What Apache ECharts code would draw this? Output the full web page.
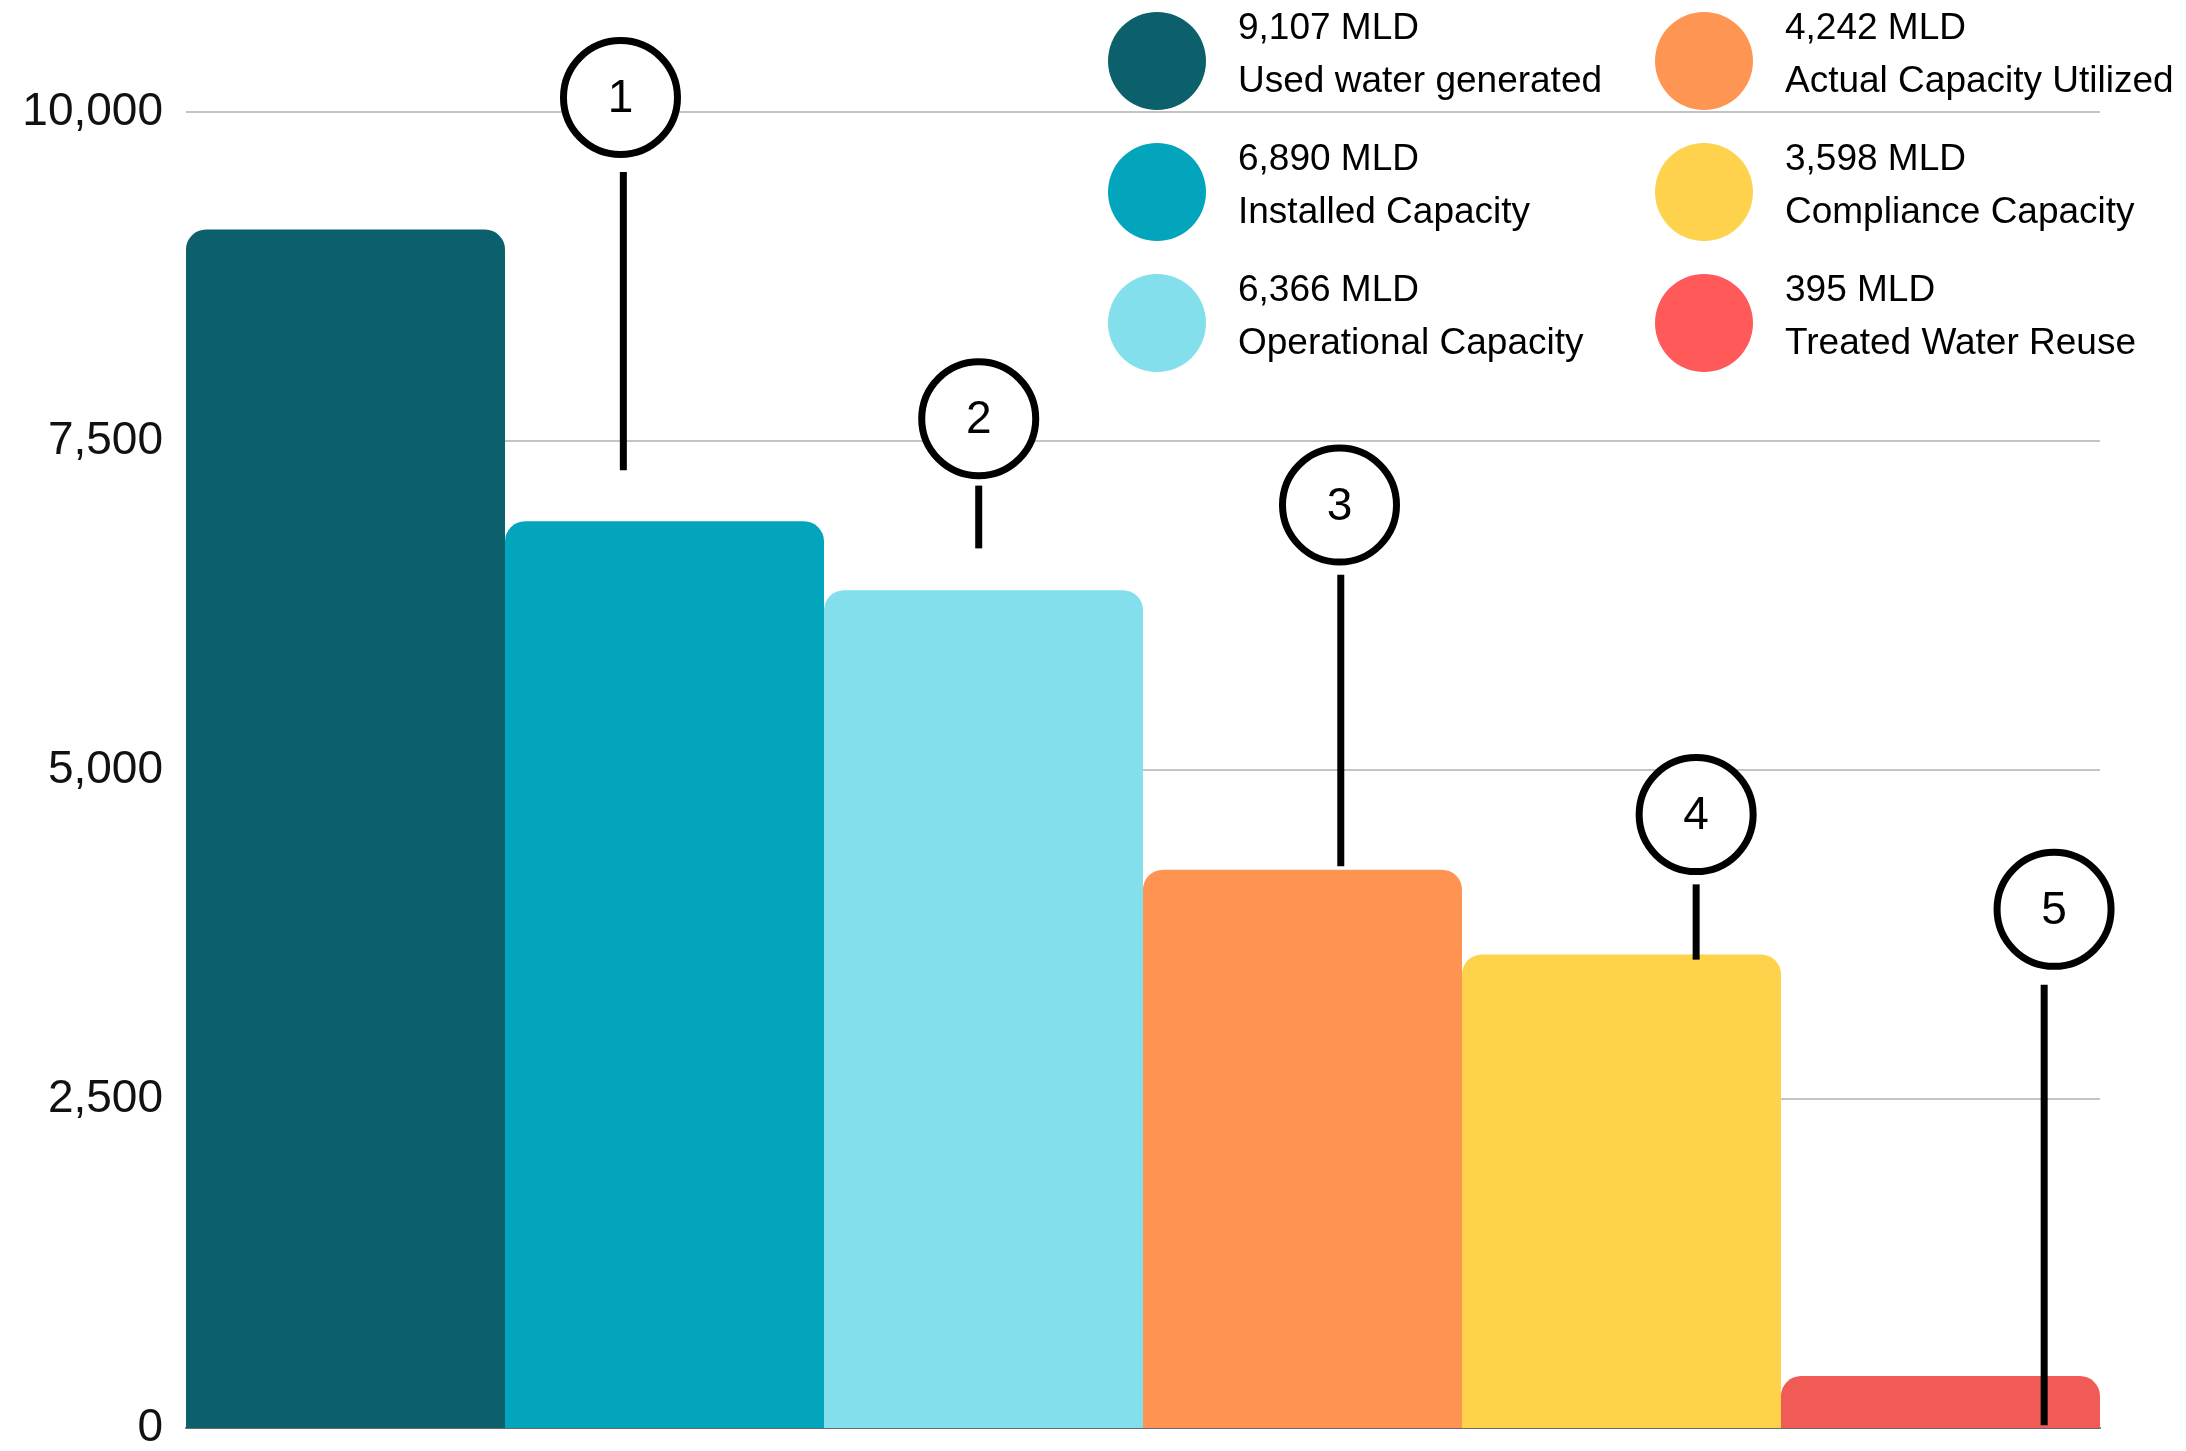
<!DOCTYPE html>
<html>
<head>
<meta charset="utf-8">
<title>Used water capacity</title>
<script src="https://cdn.jsdelivr.net/npm/echarts@6/dist/echarts.min.js"></script>
<style>
  html, body { margin: 0; padding: 0; background: #fff; }
  #chart { width: 2186px; height: 1451px; }
</style>
</head>
<body>
<div id="chart"></div>
<script>
// categories + values (MLD)
const categories = ['Used water generated', 'Installed Capacity', 'Operational Capacity',
  'Actual Capacity Utilized', 'Compliance Capacity', 'Treated Water Reuse'];
const values = [9107, 6890, 6366, 4242, 3598, 395];

const barColors = ['#0b606b', '#02a5bc', '#82dfeb', '#ff9452', '#fed24a', '#f05c55'];
const legendColors = ['#0b606b', '#02a5bc', '#82dfeb', '#ff9552', '#fed24c', '#ff5959'];

// y axis ticks
const yMin = 0;
const yMax = 10000;
const yStep = 2500;

// numbered callouts: x in category units (0..6), circle y, line top, line bottom (axis values)
const calloutLabels = ['1', '2', '3', '4', '5'];
const calloutX = [1.362, 2.485, 3.616, 4.734, 5.856];
const calloutLineX = [1.371, 2.485, 3.62, 4.734, 5.825];
const calloutCircleY = [10110, 7669, 7013, 4661, 3941];
const calloutLineTop = [9544, 7161, 6483, 4131, 3369];
const calloutLineBottom = [7278, 6684, 4269, 3559, 21];

const FONT = '"Liberation Sans", Arial, Helvetica, sans-serif';
const fmt = v => v.toLocaleString('en-US');

const chart = echarts.init(document.getElementById('chart'));

// one stacked series per category so each gets its own legend entry
const barSeries = categories.map((name, i) => ({
  name: name,
  type: 'bar',
  stack: 'all',
  barCategoryGap: '0%',
  data: values.map((v, j) => (j === i ? v : '-')),
  itemStyle: { color: barColors[i], borderRadius: [20, 20, 0, 0] }
}));

const calloutData = calloutLabels.map((t, i) =>
  [calloutX[i], calloutCircleY[i], calloutLineX[i], calloutLineTop[i], calloutLineBottom[i], t]);

const calloutSeries = {
  type: 'custom',
  name: 'callouts',
  xAxisIndex: 1,
  yAxisIndex: 0,
  clip: false,
  silent: true,
  z: 10,
  data: calloutData,
  renderItem: (params, api) => {
    const c = api.coord([api.value(0), api.value(1)]);
    const t = api.coord([api.value(2), api.value(3)]);
    const b = api.coord([api.value(2), api.value(4)]);
    return {
      type: 'group',
      children: [
        { type: 'line', shape: { x1: t[0], y1: t[1], x2: b[0], y2: b[1] },
          style: { stroke: '#000', lineWidth: 7 } },
        { type: 'circle', shape: { cx: c[0], cy: c[1], r: 57 },
          style: { fill: '#fff', stroke: '#000', lineWidth: 7 } },
        { type: 'text', x: c[0], y: c[1] + 2,
          style: { text: calloutData[params.dataIndex][5], font: '46px ' + FONT,
            fill: '#000', align: 'center', verticalAlign: 'middle' } }
      ]
    };
  }
};

const legendText = {
  fontSize: 37, fontFamily: FONT, color: '#000',
  padding: [0, 0, 12, 27],
  rich: {
    v: { fontSize: 37, fontFamily: FONT, color: '#000', lineHeight: 53 },
    n: { fontSize: 37, fontFamily: FONT, color: '#000', lineHeight: 53 }
  }
};

const legendItem = i => ({ name: categories[i], itemStyle: { color: legendColors[i] } });

const legendBase = {
  orient: 'vertical',
  icon: 'circle',
  itemWidth: 98,
  itemHeight: 98,
  itemGap: 31,
  top: 5,
  selectedMode: false,
  textStyle: legendText,
  formatter: name => '{v|' + fmt(values[categories.indexOf(name)]) + ' MLD}\n{n|' + name + '}'
};

chart.setOption({
  animation: false,
  backgroundColor: '#fff',
  textStyle: { fontFamily: FONT },
  grid: { left: 186, right: 86, top: 112, bottom: 23, containLabel: false },
  legend: [
    Object.assign({}, legendBase, { left: 1103, data: [0, 1, 2].map(legendItem) }),
    Object.assign({}, legendBase, { left: 1650, data: [3, 4, 5].map(legendItem) })
  ],
  xAxis: [
    {
      type: 'category',
      data: categories,
      axisLine: { lineStyle: { color: '#6a6a6a', width: 2 } },
      axisTick: { show: false },
      axisLabel: { show: false }
    },
    {
      type: 'value',
      min: 0,
      max: categories.length,
      show: false
    }
  ],
  yAxis: {
    type: 'value',
    min: yMin,
    max: yMax,
    interval: yStep,
    axisLine: { show: false },
    axisTick: { show: false },
    axisLabel: { fontSize: 46, fontFamily: FONT, color: '#111', margin: 23, formatter: v => fmt(v) },
    splitLine: { lineStyle: { color: '#c4c4c4', width: 2 } }
  },
  series: barSeries.concat([calloutSeries])
});
</script>
</body>
</html>
